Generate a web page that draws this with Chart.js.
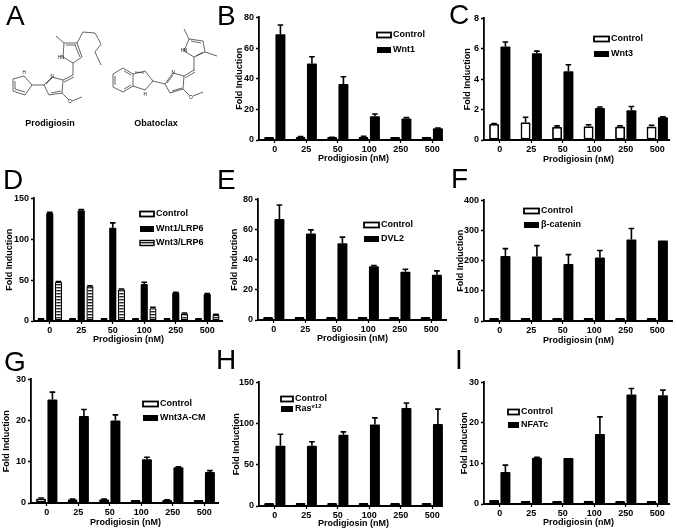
<!DOCTYPE html>
<html>
<head>
<meta charset="utf-8">
<title>Prodigiosin fold induction</title>
<script src="https://cdn.jsdelivr.net/npm/chart.js@4"></script>
<style>
  html, body { margin: 0; padding: 0; background: #fff; }
  #page { position: relative; width: 677px; height: 529px; overflow: hidden; }
  canvas { position: absolute; filter: blur(0.35px); }
  svg { position: absolute; left: 0; top: 0; filter: blur(0.25px); }
  svg text { font-family: "Liberation Sans", Arial, sans-serif; fill: #000; }
  svg line, svg polyline, svg polygon { stroke: #333; stroke-width: 0.75; fill: none; }
</style>
</head>
<body>
<div id="page">
<svg width="677" height="529" viewBox="0 0 677 529">
  <!-- panel letters -->
  <g font-size="28">
    <text x="6" y="25">A</text><text x="217" y="25">B</text><text x="449" y="24">C</text>
    <text x="3" y="189">D</text><text x="217" y="189">E</text><text x="451" y="188">F</text>
    <text x="4" y="371">G</text><text x="216" y="369">H</text><text x="455" y="369">I</text>
  </g>
  <!-- Prodigiosin -->
  <g>
    <polygon points="24,76 32,85 25,95 13,91 13,79"/>
    <line x1="15" y1="81" x2="15" y2="89"/><line x1="25" y1="92" x2="15" y2="89"/>
    <line x1="32" y1="85" x2="44" y2="85"/>
    <polygon points="44,85 52,77 63,80 62,93 49,95"/>
    <line x1="46" y1="84" x2="52" y2="78"/><line x1="51" y1="93" x2="61" y2="91"/>
    <line x1="62" y1="93" x2="69" y2="100"/><line x1="72" y1="101" x2="82" y2="97"/>
    <line x1="63" y1="80" x2="73" y2="75"/><line x1="64" y1="82" x2="74" y2="77"/>
    <line x1="73" y1="75" x2="73" y2="63"/>
    <polygon points="73,63 63,57 64,43 77,43 82,57"/>
    <line x1="66" y1="45" x2="76" y2="45"/><line x1="80" y1="57" x2="75" y2="45"/>
    <line x1="64" y1="43" x2="56" y2="36"/>
    <polyline points="77,43 83,32 95,33 101,44 95,52 101,65"/>
  </g>
  <!-- Obatoclax -->
  <g>
    <polygon points="123,68 133,74 133,86 123,92 113,87 113,74"/>
    <line x1="115" y1="76" x2="115" y2="85"/><line x1="124" y1="71" x2="131" y2="75"/><line x1="124" y1="89" x2="131" y2="85"/>
    <polyline points="133,74 145,71 153,81 145,90 133,86"/>
    <line x1="135" y1="72" x2="144" y2="73"/>
    <line x1="153" y1="81" x2="165" y2="84"/>
    <polygon points="165,84 173,73 184,76 183,89 170,93"/>
    <line x1="167" y1="83" x2="173" y2="75"/><line x1="172" y1="91" x2="182" y2="88"/>
    <line x1="183" y1="89" x2="190" y2="96"/><line x1="193" y1="96" x2="203" y2="92"/>
    <line x1="184" y1="76" x2="194" y2="70"/><line x1="185" y1="78" x2="195" y2="72"/>
    <line x1="194" y1="71" x2="194" y2="57"/>
    <polygon points="194,57 184,51 189,39 203,41 205,52"/>
    <line x1="191" y1="41" x2="201" y2="43"/><line x1="203" y1="52" x2="196" y2="56"/>
    <line x1="189" y1="39" x2="184" y2="29"/><line x1="205" y1="52" x2="217" y2="56"/>
  </g>
  <g font-size="4.5" text-anchor="middle">
    <text x="24" y="74">H</text><text x="52" y="78">N</text><text x="61" y="59">HN</text><text x="70" y="103">O</text>
    <text x="145" y="96">H</text><text x="173" y="74">N</text><text x="184" y="52">HN</text><text x="191" y="99">O</text>
  </g>
  <g font-size="9" font-weight="bold" text-anchor="middle">
    <text x="50" y="126">Prodigiosin</text>
    <text x="156" y="126">Obatoclax</text>
  </g>
</svg>
</div>
<script>
const doses = ["0", "25", "50", "100", "250", "500"];

const bControl = [1, 2, 1.5, 2, 1, 1];
const bControlErr = [0.3, 0.3, 0.3, 0.4, 0.2, 0.2];
const bWnt1 = [69, 50, 36.5, 15.5, 14, 7.7];
const bWnt1Err = [6, 4.3, 4.8, 1.5, 0.6, 0.1];

const cControl = [1.05, 1.17, 0.86, 0.9, 0.88, 0.88];
const cControlErr = [0.03, 0.33, 0.07, 0.1, 0.05, 0.09];
const cWnt3 = [6.15, 5.7, 4.53, 2.1, 1.95, 1.5];
const cWnt3Err = [0.3, 0.15, 0.42, 0.07, 0.25, 0.03];

const dControl = [1, 1, 1, 1, 1, 1];
const dControlErr = [0, 0, 0, 0, 0, 0];
const dWnt1 = [132, 135.5, 114, 45.4, 34.5, 33];
const dWnt1Err = [1, 1, 6, 2.1, 0.5, 0.5];
const dWnt3 = [47.8, 42.5, 38.6, 15.7, 9.2, 7.6];
const dWnt3Err = [0.5, 0.7, 0.5, 1, 0.5, 0.5];

const eControl = [1, 0.8, 0.7, 0.7, 0.7, 0.4];
const eControlErr = [0, 0, 0, 0, 0, 0];
const eDvl2 = [67, 57.4, 50.9, 35.7, 32, 30];
const eDvl2Err = [9.3, 2.4, 4.1, 0.5, 1.7, 2.6];

const fControl = [3, 3, 3, 3, 3, 3];
const fControlErr = [0, 0, 0, 0, 0, 0];
const fCatenin = [216, 214, 189, 211, 270, 267];
const fCateninErr = [24, 36, 31, 23, 37, 0];

const gControl = [1.1, 0.9, 0.9, 0.6, 0.7, 0.6];
const gControlErr = [0.1, 0.05, 0.05, 0, 0.05, 0];
const gWnt3a = [25.1, 21.1, 20, 10.6, 8.66, 7.5];
const gWnt3aErr = [1.8, 1.6, 1.4, 0.5, 0.1, 0.36];

const hControl = [0.8, 0.7, 0.5, 0.5, 0.5, 0.6];
const hControlErr = [0, 0, 0, 0, 0, 0];
const hRas = [73, 73, 86.4, 99, 119, 99.6];
const hRasErr = [14, 5, 3.6, 8, 6, 18];

const iControl = [1, 0.7, 0.7, 0.8, 0.5, 0.6];
const iControlErr = [0, 0, 0, 0, 0, 0];
const iNfat = [7.9, 11.4, 11.35, 17.3, 27, 26.85];
const iNfatErr = [1.7, 0.1, 0, 4.2, 1.5, 1.25];

const FONT = '"Liberation Sans", Arial, sans-serif';

// horizontal stripes for the Wnt3/LRP6 bars
function stripes() {
  const c = document.createElement("canvas");
  c.width = 4;
  c.height = 3;
  const g = c.getContext("2d");
  g.fillStyle = "#fff";
  g.fillRect(0, 0, 4, 3);
  g.fillStyle = "#222";
  g.fillRect(0, 0, 4, 1.4);
  return g.createPattern(c, "repeat");
}

const white = { backgroundColor: "#fff", borderColor: "#000", borderWidth: 1.8 };
const black = { backgroundColor: "#000", borderColor: "#000", borderWidth: 0 };
const hatch = { backgroundColor: stripes(), borderColor: "#000", borderWidth: 1.4 };

// legend and error bars are drawn per chart
const errorBars = {
  id: "errorBars",
  afterDatasetsDraw(chart) {
    const c = chart.ctx;
    const y = chart.scales.y;
    c.save();
    c.strokeStyle = "#000";
    c.lineWidth = 1.6;
    chart.data.datasets.forEach((ds, i) => {
      chart.getDatasetMeta(i).data.forEach((bar, k) => {
        if (!ds.err[k]) return;
        const top = y.getPixelForValue(ds.data[k] + ds.err[k]);
        c.beginPath();
        c.moveTo(bar.x, bar.y);
        c.lineTo(bar.x, top);
        c.moveTo(bar.x - 2.8, top);
        c.lineTo(bar.x + 2.8, top);
        c.stroke();
      });
    });
    c.restore();
  },
};

const axisLine = {
  id: "axisLine",
  afterDatasetsDraw(chart, args, opts) {
    const c = chart.ctx;
    const a = chart.chartArea;
    c.save();
    c.strokeStyle = "#000";
    c.lineWidth = 1.8;
    c.beginPath();
    c.moveTo(a.left - 0.9, a.bottom);
    c.lineTo(a.left + opts.length, a.bottom);
    c.stroke();
    c.restore();
  },
};

const sideLegend = {
  id: "sideLegend",
  afterDraw(chart, args, opts) {
    const c = chart.ctx;
    c.save();
    c.textBaseline = "middle";
    c.textAlign = "left";
    chart.data.datasets.forEach((ds, i) => {
      const x = opts.x;
      const y = opts.ys[i];
      const h = ds.borderWidth ? 5 : 6;
      c.fillStyle = ds.backgroundColor;
      c.fillRect(x, y - h / 2, opts.w, h);
      if (ds.borderWidth) {
        c.strokeStyle = "#000";
        c.lineWidth = ds.borderWidth;
        c.strokeRect(x, y - h / 2, opts.w, h);
      }
      c.fillStyle = "#000";
      c.font = "bold 9px " + FONT;
      const parts = ds.label.split("^");
      const tx = x + opts.w + 2;
      c.fillText(parts[0], tx, y);
      if (parts[1]) {
        const w = c.measureText(parts[0]).width;
        c.font = "bold 6px " + FONT;
        c.fillText(parts[1], tx + w, y - 3);
      }
    });
    c.restore();
  },
};

function panel(p) {
  const step = 31.5;
  const plotW = step * 6;
  const left = p.titleX - 5;
  const top = p.top - 6;
  const bottom = p.bottom + p.xTitle + 7;
  const cv = document.createElement("canvas");
  cv.width = p.axisX - left + plotW + 6;
  cv.height = bottom - top;
  cv.style.left = left + "px";
  cv.style.top = top + "px";
  document.getElementById("page").appendChild(cv);

  new Chart(cv.getContext("2d"), {
    type: "bar",
    data: {
      labels: doses,
      datasets: p.series.map((s) => ({
        label: s.label,
        data: s.data,
        err: s.err,
        backgroundColor: s.style.backgroundColor,
        borderColor: s.style.borderColor,
        borderWidth: s.style.borderWidth,
        borderSkipped: false,
        borderRadius: 1,
        minBarLength: 3,
        categoryPercentage: p.series.length === 3 ? 0.83 : 0.72,
        barPercentage: p.series.length === 3 ? 0.82 : 0.88,
      })),
    },
    options: {
      responsive: false,
      animation: false,
      layout: { padding: { top: 6, right: 6, left: 0, bottom: 0 } },
      plugins: {
        legend: { display: false },
        tooltip: { enabled: false },
        axisLine: { length: p.axisEnd - p.axisX },
        sideLegend: { x: p.legendX - left, w: p.legendW, ys: p.legendY.map((v) => v - top) },
      },
      scales: {
        x: {
          grid: { offset: false, drawOnChartArea: false, tickLength: 3, tickColor: "#000", tickWidth: 1.2 },
          border: { display: false },
          ticks: { color: "#000", padding: 1, maxRotation: 0, autoSkip: false, font: { family: FONT, size: 9, weight: "bold" } },
          title: { display: true, text: "Prodigiosin (nM)", color: "#000", padding: 0, font: { family: FONT, size: 9, weight: "bold" } },
          afterFit(s) { s.height = bottom - p.bottom; },
        },
        y: {
          min: 0,
          max: p.max,
          grid: { drawOnChartArea: false, tickLength: 3, tickColor: "#000", tickWidth: 1.5 },
          border: { display: true, color: "#000", width: 1.8 },
          ticks: { stepSize: p.stepSize, color: "#000", padding: 2, font: { family: FONT, size: 9, weight: "bold" } },
          title: { display: true, text: "Fold Induction", color: "#000", padding: 0, font: { family: FONT, size: 9, weight: "bold" } },
          afterFit(s) { s.width = p.axisX - left; },
        },
      },
    },
    plugins: [errorBars, axisLine, sideLegend],
  });
}

panel({ titleX: 239, axisX: 259, axisEnd: 443, top: 16, bottom: 140, xTitle: 17, max: 80, stepSize: 20, legendX: 377, legendW: 14, legendY: [35, 50],
  series: [{ label: "Control", data: bControl, err: bControlErr, style: white }, { label: "Wnt1", data: bWnt1, err: bWnt1Err, style: black }] });
panel({ titleX: 467, axisX: 484, axisEnd: 670, top: 17, bottom: 140, xTitle: 18, max: 8, stepSize: 2, legendX: 594, legendW: 15, legendY: [39, 54],
  series: [{ label: "Control", data: cControl, err: cControlErr, style: white }, { label: "Wnt3", data: cWnt3, err: cWnt3Err, style: black }] });
panel({ titleX: 9, axisX: 34, axisEnd: 223, top: 197, bottom: 321, xTitle: 17, max: 150, stepSize: 50, legendX: 140, legendW: 14, legendY: [214, 229, 243],
  series: [{ label: "Control", data: dControl, err: dControlErr, style: white }, { label: "Wnt1/LRP6", data: dWnt1, err: dWnt1Err, style: black }, { label: "Wnt3/LRP6", data: dWnt3, err: dWnt3Err, style: hatch }] });
panel({ titleX: 234, axisX: 258, axisEnd: 447, top: 198, bottom: 320, xTitle: 17, max: 80, stepSize: 20, legendX: 364, legendW: 15, legendY: [225, 239],
  series: [{ label: "Control", data: eControl, err: eControlErr, style: white }, { label: "DVL2", data: eDvl2, err: eDvl2Err, style: black }] });
panel({ titleX: 460, axisX: 484, axisEnd: 673, top: 199, bottom: 321, xTitle: 18, max: 400, stepSize: 100, legendX: 524, legendW: 15, legendY: [211, 225],
  series: [{ label: "Control", data: fControl, err: fControlErr, style: white }, { label: "β-catenin", data: fCatenin, err: fCateninErr, style: black }] });
panel({ titleX: 6, axisX: 31, axisEnd: 219, top: 378, bottom: 503, xTitle: 18, max: 30, stepSize: 10, legendX: 143, legendW: 15, legendY: [404, 418],
  series: [{ label: "Control", data: gControl, err: gControlErr, style: white }, { label: "Wnt3A-CM", data: gWnt3a, err: gWnt3aErr, style: black }] });
panel({ titleX: 236, axisX: 259, axisEnd: 443, top: 381, bottom: 506, xTitle: 16, max: 150, stepSize: 50, legendX: 281, legendW: 12, legendY: [399, 409],
  series: [{ label: "Control", data: hControl, err: hControlErr, style: white }, { label: "Ras^v12", data: hRas, err: hRasErr, style: black }] });
panel({ titleX: 464, axisX: 484, axisEnd: 670, top: 381, bottom: 504, xTitle: 17, max: 30, stepSize: 10, legendX: 508, legendW: 11, legendY: [412, 425],
  series: [{ label: "Control", data: iControl, err: iControlErr, style: white }, { label: "NFATc", data: iNfat, err: iNfatErr, style: black }] });
</script>
</body>
</html>
